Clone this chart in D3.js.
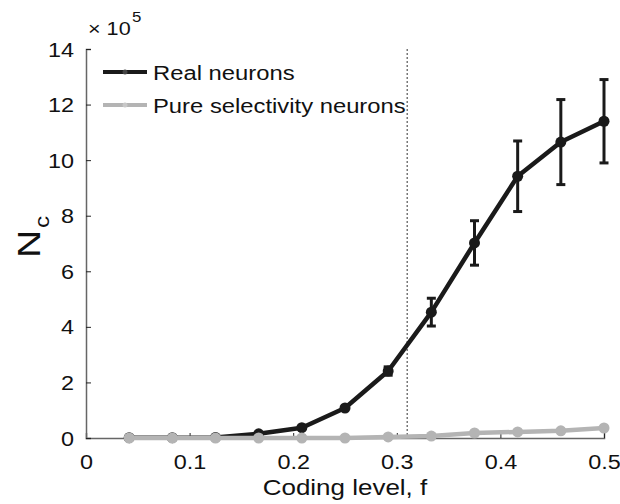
<!DOCTYPE html>
<html><head><meta charset="utf-8">
<script src="https://cdn.jsdelivr.net/npm/d3@7"></script>
<style>body{margin:0;background:#fff}svg{display:block;font-family:"Liberation Sans",Arial,sans-serif}</style>
</head><body><svg id="c" width="620" height="504"></svg>
<script>
const codingLevel = [1/24,2/24,3/24,4/24,5/24,6/24,7/24,8/24,9/24,10/24,11/24,12/24];
const realNeurons = [0.01,0.01,0.02,0.15,0.37,1.08,2.41,4.53,7.02,9.42,10.65,11.4];
const realErr     = [0,0,0,0,0,0,0.15,0.5,0.8,1.27,1.53,1.5];
const pureNeurons = [0,0,0,0,0,0,0.04,0.07,0.18,0.22,0.26,0.36];
const xTicks = [0,0.1,0.2,0.3,0.4,0.5];
const yTicks = [0,2,4,6,8,10,12,14];
const thresholdF = 0.31;
const seriesNames = ["Real neurons","Pure selectivity neurons"];

const svg = d3.select("#c");
const x = d3.scaleLinear().domain([0,0.5]).range([86,604]);
const y = d3.scaleLinear().domain([0,14]).range([438,49]);
const axisCol = "#666";
const FONT = "Liberation Sans, Arial, sans-serif";

function stretch(sel,k){
  sel.each(function(){
    const w = this.getComputedTextLength();
    d3.select(this).attr("textLength",w*k).attr("lengthAdjust","spacingAndGlyphs");
  });
}

// dotted threshold line
svg.append("line").attr("x1",x(thresholdF)).attr("x2",x(thresholdF))
  .attr("y1",y(14)).attr("y2",y(0)).attr("stroke","#333").attr("stroke-width",1)
  .attr("stroke-dasharray","2,2");

// axes
const xa = svg.append("g").attr("transform","translate(0,438)")
  .call(d3.axisBottom(x).tickValues(xTicks).tickSize(-5).tickPadding(0).tickFormat(d=>d===0?"0":d3.format(".1f")(d)));
const ya = svg.append("g").attr("transform","translate(86,0)")
  .call(d3.axisLeft(y).tickValues(yTicks).tickSize(-5).tickPadding(12).tickFormat(d3.format("d")));
[xa,ya].forEach(a=>{
  a.select(".domain").attr("stroke",axisCol).attr("stroke-width",1.5);
  a.selectAll(".tick line").attr("stroke","#222");
  a.selectAll(".tick text").attr("font-size",19.5).attr("fill","#111").attr("font-family",FONT);
});
xa.selectAll(".tick text").attr("y",31).attr("dy",null);
ya.selectAll(".tick text").attr("dy","0.36em");
stretch(xa.selectAll(".tick text"),1.2);
stretch(ya.selectAll(".tick text"),1.2);

const line = d3.line().x((d,i)=>x(codingLevel[i])).y(d=>y(d));

// real neurons: error bars, line, markers
const eb = svg.append("g").attr("stroke","#1a1a1a").attr("stroke-width",3);
realNeurons.forEach((v,i)=>{
  const e = realErr[i]; if(!e) return;
  const cx = x(codingLevel[i]);
  eb.append("line").attr("x1",cx).attr("x2",cx).attr("y1",y(v+e)).attr("y2",y(v-e));
  eb.append("line").attr("x1",cx-4.5).attr("x2",cx+4.5).attr("y1",y(v+e)).attr("y2",y(v+e));
  eb.append("line").attr("x1",cx-4.5).attr("x2",cx+4.5).attr("y1",y(v-e)).attr("y2",y(v-e));
});
svg.append("path").datum(realNeurons).attr("d",line).attr("fill","none")
  .attr("stroke","#1a1a1a").attr("stroke-width",4.5).attr("stroke-linejoin","round");
svg.selectAll(".rp").data(realNeurons).enter().append("circle")
  .attr("cx",(d,i)=>x(codingLevel[i])).attr("cy",d=>y(d)).attr("r",5.5).attr("fill","#1a1a1a");

// pure selectivity series (on top)
svg.append("path").datum(pureNeurons).attr("d",line).attr("fill","none")
  .attr("stroke","#b4b4b4").attr("stroke-width",4.5).attr("stroke-linejoin","round");
svg.selectAll(".pp").data(pureNeurons).enter().append("circle")
  .attr("cx",(d,i)=>x(codingLevel[i])).attr("cy",d=>y(d)).attr("r",5.5).attr("fill","#b4b4b4");

// legend
const lg = svg.append("g");
const legCols = ["#1a1a1a","#b4b4b4"];
const legDot = ["#444","#c8c8c8"];
seriesNames.forEach((n,i)=>{
  const ly = 72 + i*33;
  lg.append("line").attr("x1",103).attr("x2",147).attr("y1",ly).attr("y2",ly)
    .attr("stroke",legCols[i]).attr("stroke-width",4);
  lg.append("circle").attr("cx",125).attr("cy",ly).attr("r",2.5).attr("fill",legDot[i]);
  lg.append("text").attr("x",153).attr("y",ly+7.5).attr("font-size",20)
    .attr("fill","#111").text(n);
});
stretch(lg.selectAll("text"),1.19);

// exponent
const ex1 = svg.append("text").attr("x",88).attr("y",35).attr("font-size",18).attr("fill","#111").text("× 10");
stretch(ex1,1.2);
const ex2 = svg.append("text").attr("x",132).attr("y",22).attr("font-size",14).attr("fill","#111").text("5");
stretch(ex2,1.2);

// axis titles
const xt = svg.append("text").attr("x",x(0.25)).attr("y",495).attr("text-anchor","middle")
  .attr("font-size",22).attr("fill","#111").text("Coding level, f");
stretch(xt,1.18);
const yg = svg.append("g").attr("transform","translate(40,258) rotate(-90)");
const nT = yg.append("text").attr("x",0).attr("y",0).attr("font-size",32).attr("fill","#111").text("N");
stretch(nT,1.22);
const cT = yg.append("text").attr("x",30).attr("y",9).attr("font-size",21).attr("fill","#111").text("c");
stretch(cT,1.15);
</script></body></html>
